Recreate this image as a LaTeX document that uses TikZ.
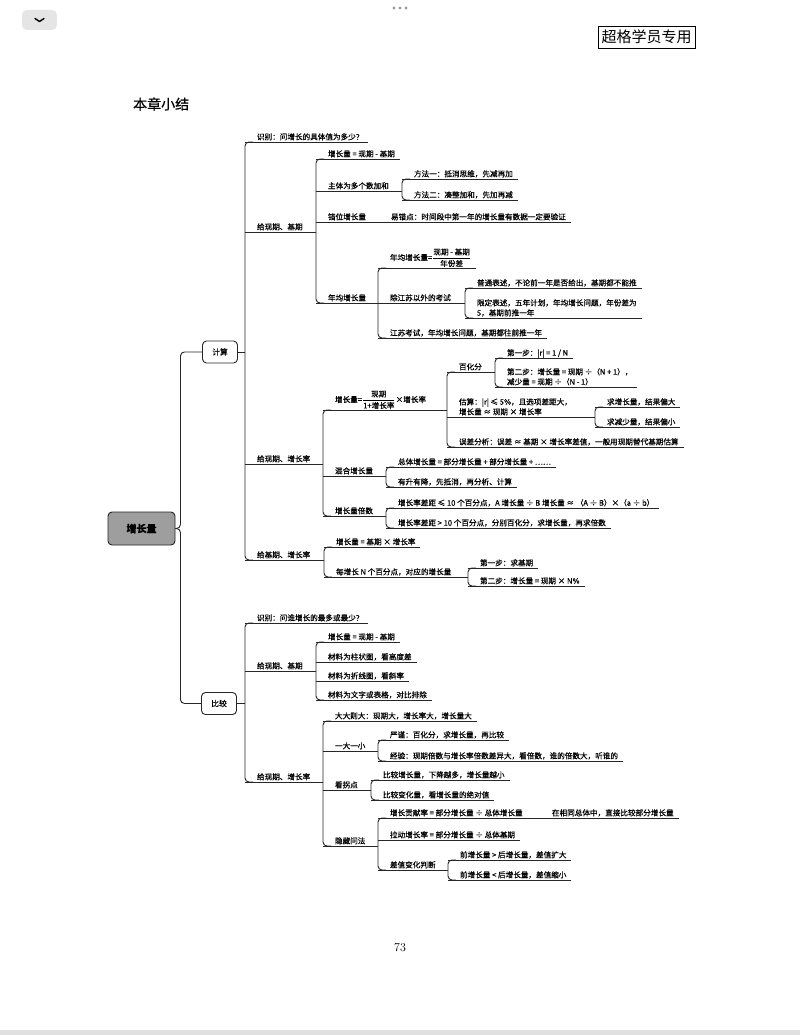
\documentclass[tikz,border=0pt]{standalone}
\usepackage{amsmath}
\usepackage{fontspec}
\newfontfamily\zh[FakeBold=0.6]{Noto Sans CJK SC}
\newfontfamily\zhthin{Noto Sans CJK SC}
\usepackage{tikz}

\begin{document}
\begin{tikzpicture}[x=1pt, y=-1pt,
  ln/.style={draw=black!85, line width=0.9pt},
  topic/.style={anchor=south west, inner xsep=12pt, inner ysep=1pt,
                outer sep=0pt, align=left, text depth=1.3pt,
                font=\zh\fontsize{7.6}{10}\selectfont},
  fracnode/.style={topic, text depth=},
  hub/.style={rectangle, rounded corners=4pt, draw=black!85, line width=0.9pt,
              fill=white, minimum width=35pt, minimum height=22pt, inner sep=0pt,
              font=\zh\fontsize{7.8}{10}\selectfont},
  rootbox/.style={hub, fill=black!38, minimum width=67pt, minimum height=33pt,
                  font=\zh\bfseries\fontsize{10}{12}\selectfont}]
\useasboundingbox (0,0) rectangle (800,1035);
% page furniture
\fill[black!10, rounded corners=5pt] (22,10) rectangle (57,30);
\draw[line width=1.4pt, line cap=round, line join=round]
  (35,18.5) -- (39.5,21.5) -- (44,18.5);
\foreach \x in {394,400,406} \fill[black!40] (\x,8) circle (1.6pt);
\fill[black!12] (0,1030) rectangle (800,1035);
\node[draw, line width=0.6pt, minimum width=97pt, minimum height=22pt,
      inner sep=0pt, font=\zhthin\fontsize{15}{17}\selectfont] (tag) at (646.5,37) {超格学员专用};
\node[anchor=west, inner sep=0pt, font=\zh\fontsize{14}{16}\selectfont] (title) at (133,104) {本章小结};
\node[font=\fontsize{12}{14}\selectfont] (page) at (400,948) {73};

% hubs
\node[rootbox] (root) at (141.5,528.5) {增长量};
\node[hub] (calc) at (220,352) {计算};
\node[hub] (cmp) at (219,703.5) {比较};

% 计算
\node[topic] (k1) at (245,142) {识别：问增长的具体值为多少？};
\node[topic] (k2) at (245,232) {给现期、基期};
\node[topic] (m1) at (316,159) {增长量 = 现期 - 基期};
\node[topic] (m2) at (316,191) {主体为多个数加和};
\node[topic] (m2a) at (402,179) {方法一：抵消思维，先减再加};
\node[topic] (m2b) at (402,200) {方法二：凑整加和，先加再减};
\node[topic] (m3) at (316,222) {错位增长量};
\node[topic] (m3a) at (379,222) {易错点：时间段中第一年的增长量有数据一定要验证};
\node[topic] (m4) at (316,303) {年均增长量};
\node[fracnode] (m4a) at (378,268) {年均增长量=$\dfrac{\text{现期 - 基期}}{\text{年份差}}$};
\node[topic] (m4b) at (378,303) {除江苏以外的考试};
\node[topic] (m4b1) at (465,288) {普通表述，不论前一年是否给出，基期都不能推};
\node[topic] (m4b2) at (465,318) {限定表述，五年计划，年均增长问题，年份差为\\5，基期前推一年};
\node[topic] (m4c) at (378,338) {江苏考试，年均增长问题，基期都往前推一年};
\node[topic] (k3) at (245,464) {给现期、增长率};
\node[fracnode] (g1) at (323,410) {增长量=$\dfrac{\text{现期}}{\text{1+增长率}}$×增长率};
\node[topic] (g1a) at (447,372) {百化分};
\node[topic] (g1a1) at (495,358) {第一步：|r| = 1 / N};
\node[topic] (g1a2) at (495,387) {第二步：增长量 = 现期 ÷（N + 1），\\减少量 = 现期 ÷（N - 1）};
\node[topic] (g1b) at (447,417) {估算：|r| ≤ 5\%，且选项差距大，\\增长量 ≈ 现期 × 增长率};
\node[topic] (g1b1) at (595,407) {求增长量，结果偏大};
\node[topic] (g1b2) at (595,427) {求减少量，结果偏小};
\node[topic] (g1c) at (447,447) {误差分析：误差 ≈ 基期 × 增长率差值，一般用现期替代基期估算};
\node[topic] (g2) at (323,476) {混合增长量};
\node[topic] (g2a) at (386,467) {总体增长量 = 部分增长量 + 部分增长量 + ……};
\node[topic] (g2b) at (386,487) {有升有降，先抵消，再分析、计算};
\node[topic] (g3) at (323,516) {增长量倍数};
\node[topic] (g3a) at (386,508) {增长率差距 ≤ 10 个百分点，A 增长量 ÷ B 增长量 ≈ （A ÷ B）×（a ÷ b）};
\node[topic] (g3b) at (386,528) {增长率差距 > 10 个百分点，分别百化分，求增长量，再求倍数};
\node[topic] (k4) at (245,560) {给基期、增长率};
\node[topic] (j1) at (324,547) {增长量 = 基期 × 增长率};
\node[topic] (j2) at (324,577) {每增长 N 个百分点，对应的增长量};
\node[topic] (j2a) at (468,568) {第一步：求基期};
\node[topic] (j2b) at (468,586) {第二步：增长量 = 现期 × N\%};

% 比较
\node[topic] (b1) at (245,623) {识别：问谁增长的最多或最少？};
\node[topic] (b2) at (245,671) {给现期、基期};
\node[topic] (b2a) at (316,642) {增长量 = 现期 - 基期};
\node[topic] (b2b) at (316,662) {材料为柱状图，看高度差};
\node[topic] (b2c) at (316,681) {材料为折线图，看斜率};
\node[topic] (b2d) at (316,700) {材料为文字或表格，对比排除};
\node[topic] (b3) at (245,782) {给现期、增长率};
\node[topic] (c1) at (323,721) {大大则大：现期大，增长率大，增长量大};
\node[topic] (c2) at (323,751) {一大一小};
\node[topic] (c2a) at (378,740) {严谨：百化分，求增长量，再比较};
\node[topic] (c2b) at (378,761) {经验：现期倍数与增长率倍数差异大，看倍数，谁的倍数大，听谁的};
\node[topic] (c3) at (323,790) {看拐点};
\node[topic] (c3a) at (371,780) {比较增长量，下降越多，增长量越小};
\node[topic] (c3b) at (371,800) {比较变化量，看增长量的绝对值};
\node[topic] (c4) at (323,846) {隐藏问法};
\node[topic] (c4a) at (378,818) {增长贡献率 = 部分增长量 ÷ 总体增长量};
\node[topic] (c4a1) at (540,818) {在相同总体中，直接比较部分增长量};
\node[topic] (c4b) at (378,840) {拉动增长率 = 部分增长量 ÷ 总体基期};
\node[topic] (c4c) at (378,870) {差值变化判断};
\node[topic] (c4c1) at (448,860) {前增长量 > 后增长量，差值扩大};
\node[topic] (c4c2) at (448,880) {前增长量 < 后增长量，差值缩小};

% connectors
\draw[ln, rounded corners=4pt] (root.east) -- ++(5,0) |- (calc.west);
\draw[ln, rounded corners=4pt] (root.east) -- ++(5,0) |- (cmp.west);
\draw[ln] (calc.east) -- (calc.east -| k1.south west);
\draw[ln] (cmp.east) -- (cmp.east -| b1.south west);
\foreach \a/\b in {k1/k4,m1/m4,m2a/m2b,m4a/m4c,m4b1/m4b2,g1/g3,g1a/g1c,g1a1/g1a2,%
    g1b1/g1b2,g2a/g2b,g3a/g3b,j1/j2,j2a/j2b,b1/b3,b2a/b2d,c1/c4,c2a/c2b,c3a/c3b,%
    c4a/c4c,c4c1/c4c2}
  \draw[ln, rounded corners=4pt] ([xshift=8pt]\a.south west) -- (\a.south west)
    -- (\b.south west) -- ([xshift=8pt]\b.south west);
\foreach \p/\a in {k2/m1,m2/m2a,m3/m3a,m4/m4a,m4b/m4b1,k3/g1,g1/g1a,g1a/g1a1,%
    g1b/g1b1,g2/g2a,g3/g3a,k4/j1,j2/j2a,b2/b2a,b3/c1,c2/c2a,c3/c3a,c4/c4a,%
    c4a/c4a1,c4c/c4c1}
  \draw[ln] (\p.south west) -- (\p.south west -| \a.south west);
\foreach \n in {k1,m1,m2a,m2b,m3a,m4a,m4b1,m4b2,m4c,g1a1,g1a2,g1b1,g1b2,g1c,%
    g2a,g2b,g3a,g3b,j1,j2a,j2b,b1,b2a,b2b,b2c,b2d,c1,c2a,c2b,c3a,c3b,c4a1,c4b,%
    c4c1,c4c2}
  \draw[ln] (\n.south west) -- ([xshift=-7pt]\n.south east);
\end{tikzpicture}
\end{document}
